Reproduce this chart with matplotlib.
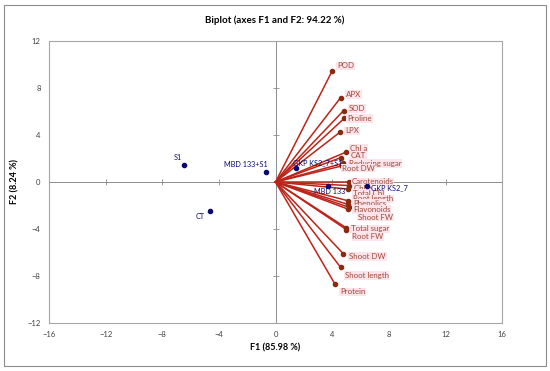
import numpy as np
import matplotlib.pyplot as plt

plt.rcParams['font.family'] = ['Lato', 'DejaVu Sans']

# variables (loadings scaled)
var_names = ['POD', 'APX', 'SOD', 'Proline', 'LPX', 'Chl a', 'CAT', 'Reducing sugar',
             'Root DW', 'Carotenoids', 'Chl b', 'Total Chl', 'Root length', 'Phenolics',
             'Flavonoids', 'Shoot FW', 'Total sugar', 'Root FW', 'Shoot DW',
             'Shoot length', 'Protein']
var_x = [4.0, 4.59, 4.8, 4.85, 4.57, 4.99, 4.6, 4.76, 4.66, 5.16, 5.2, 5.1, 5.13, 5.1,
         5.18, 5.1, 4.99, 5.0, 4.78, 4.59, 4.19]
var_y = [9.45, 7.17, 6.07, 5.42, 4.26, 2.55, 2.07, 1.59, 1.36, 0.0, -0.3, -0.6, -1.6,
         -1.9, -2.15, -2.3, -3.9, -4.05, -6.1, -7.26, -8.68]
# label offsets in pixels
var_off = [(5, 5), (5, 3), (5, 2), (3, 0), (5, 1), (4, 4), (10, 2), (6, 0), (0, -2),
           (3, 0), (5, -3), (5, -4), (5, 2), (5, 1), (4, -2), (10, -8), (5, -1), (6, -7),
           (6, -3), (4, -8), (5, -8)]

# observations
obs_names = ['S1', 'MBD 133+S1', 'CT', 'GKP KS2_7+S1', 'MBD 133', 'GKP KS2_7']
obs_x = [-6.43, -0.64, -4.61, 1.41, 3.67, 6.47]
obs_y = [1.45, 0.85, -2.44, 1.16, -0.34, -0.31]
obs_off = [(-7, 7), (-21, 8), (-10, -6), (-3, 6), (2, -6), (4, -2)]
obs_ha = ['center', 'center', 'center', 'left', 'center', 'left']

fig = plt.figure(figsize=(5.5, 3.71), dpi=100)
ax = fig.add_axes([0.089, 0.1294, 0.824, 0.7601])

line_c = '#bb2418'
pt_c = '#8b2a10'
lab_c = '#9c4a38'
obs_c = '#0a0a6e'
grid_c = '#8c8c8c'

ax.axhline(0, color=grid_c, lw=0.7, zorder=1)
ax.axvline(0, color=grid_c, lw=0.7, zorder=1)

xt = np.arange(-16, 17, 4)
yt = np.arange(-12, 13, 4)
# little tick marks on the zero lines
ax.plot(xt, np.zeros(len(xt)), ls='', marker='|', color=grid_c, ms=4, mew=0.6, zorder=1)
ax.plot(np.zeros(len(yt)), yt, ls='', marker='_', color=grid_c, ms=4, mew=0.6, zorder=1)

for name, x, y, off in zip(var_names, var_x, var_y, var_off):
    ax.plot([0, x], [0, y], color=line_c, lw=1.1, zorder=2)
    ax.plot(x, y, 'o', color=pt_c, ms=3, zorder=3)
    ax.annotate(name, (x, y), xytext=off, textcoords='offset pixels',
                fontsize=5.7, color=lab_c, va='center', ha='left',
                bbox=dict(boxstyle='square,pad=0.1', fc='#fde3ea', ec='none'))

ax.plot(obs_x, obs_y, 'o', color=obs_c, ms=3, ls='', zorder=4)
for name, x, y, off, ha in zip(obs_names, obs_x, obs_y, obs_off, obs_ha):
    ax.annotate(name, (x, y), xytext=off, textcoords='offset pixels',
                fontsize=5.2, color=obs_c, va='center', ha=ha, zorder=5)

ax.set_xlim(-16, 16)
ax.set_ylim(-12, 12)
ax.set_xticks(xt)
ax.set_yticks(yt)
ax.tick_params(length=0, labelsize=5.5, colors='#404040', pad=6)
for s in ax.spines.values():
    s.set_color('#a6a6a6')
    s.set_linewidth(0.8)

ax.set_xlabel('F1 (85.98 %)', fontsize=6.5, fontweight='bold', labelpad=4)
ax.set_ylabel('F2 (8.24 %)', fontsize=6.5, fontweight='bold', labelpad=6)
fig.text(0.5, 0.945, 'Biplot (axes F1 and F2: 94.22 %)', fontsize=7, fontweight='bold',
         ha='center', va='center')

# outer frame around the chart
fig.add_artist(plt.Rectangle((0.007, 0.013), 0.986, 0.974, transform=fig.transFigure,
                             fill=False, ec='#8c8c8c', lw=0.8))

fig.savefig('out.png', dpi=100)
